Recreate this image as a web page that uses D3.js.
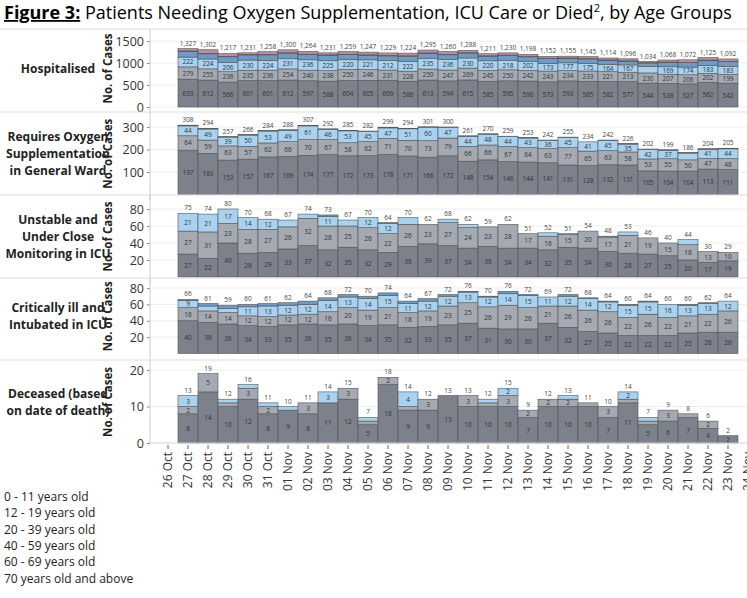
<!DOCTYPE html><html><head><meta charset="utf-8"><script src="https://cdn.jsdelivr.net/npm/d3@7"></script>
<style>body{margin:0;background:#fff}text{font-family:"Open Sans",Lato,sans-serif}</style></head><body><svg id="c" width="747" height="598"></svg>
<script>
const dates=["26 Oct","27 Oct","28 Oct","29 Oct","30 Oct","31 Oct","01 Nov","02 Nov","03 Nov","04 Nov","05 Nov","06 Nov","07 Nov","08 Nov","09 Nov","10 Nov","11 Nov","12 Nov","13 Nov","14 Nov","15 Nov","16 Nov","17 Nov","18 Nov","19 Nov","20 Nov","21 Nov","22 Nov","23 Nov","24 Nov"];
const barDates=dates.slice(1,29);
const ageGroups=["70 years old and above","60 - 69 years old","40 - 59 years old","20 - 39 years old","12 - 19 years old","0 - 11 years old"];
const legendLabels=["0 - 11 years old","12 - 19 years old","20 - 39 years old","40 - 59 years old","60 - 69 years old","70 years old and above"];
const colors=["#7c818b","#a4a9b2","#a9d2f0","#6e9bc4","#3a4668","#b88ea6"];
// Hospitalised
const hosp70=[633,612,566,601,601,612,597,588,604,605,609,586,613,594,615,585,595,590,573,593,585,582,577,544,538,527,562,542];
const hosp60=[279,255,236,235,236,254,240,238,250,246,231,228,250,247,269,245,250,242,243,234,233,221,213,230,207,206,202,199];
const hosp40=[222,224,206,230,224,231,236,225,220,221,212,222,235,236,230,220,218,202,173,177,175,164,167,148,169,174,183,183];
const hosp20=[133,117,133,117,124,128,119,126,117,106,110,120,124,110,112,106,108,107,112,102,100,96,85,78,100,101,112,106];
const hosp12=[8,8,8,8,8,8,8,8,8,8,8,8,8,8,8,8,8,8,8,8,8,8,8,6,8,8,8,8];
const hosp0=[52,86,68,40,65,67,64,46,60,61,59,60,65,65,54,47,51,49,43,41,44,43,46,28,46,56,58,54];
// Oxygen in general ward
const oxy70=[197,183,153,157,167,169,174,177,172,173,178,171,166,172,148,154,146,144,141,131,128,132,131,105,104,104,113,111];
const oxy60=[64,59,63,57,62,66,70,67,58,62,71,70,73,79,66,66,67,64,63,77,65,63,58,53,55,50,47,48];
const oxy40=[44,49,39,50,53,49,61,46,53,45,47,51,60,47,44,48,44,43,36,45,41,45,35,42,37,30,41,44];
const oxy20=[3,3,2,2,2,4,2,2,2,2,3,2,2,2,3,2,2,2,2,2,0,2,2,2,3,2,3,2];
// Unstable, close monitoring in ICU
const uns70=[27,22,40,28,29,33,37,32,35,32,29,36,39,37,34,36,34,34,32,35,34,30,28,27,25,20,17,19];
const uns60=[27,31,23,28,27,26,32,28,25,26,22,26,23,27,24,23,28,17,16,15,20,17,21,19,15,18,13,10];
const uns40=[21,21,17,14,12,8,5,11,7,12,12,8,0,4,4,0,0,0,4,1,0,1,4,0,0,6,0,0];
const uns20=[0,0,0,0,0,0,0,2,0,0,1,0,0,0,0,0,0,0,0,0,0,0,0,0,0,0,0,0];
// Critically ill, intubated in ICU
const crit70=[40,38,36,34,33,35,36,35,36,34,35,32,33,35,37,31,30,30,37,32,27,25,22,22,22,25,26,26];
const crit60=[16,14,14,12,12,12,12,16,20,19,21,18,19,23,25,26,29,26,21,26,26,26,22,26,22,21,22,26];
const crit40=[9,6,5,11,13,12,12,14,13,14,15,11,12,12,13,12,14,15,11,12,14,12,15,15,16,13,13,12];
const crit20=[1,3,4,3,3,3,4,3,3,3,3,3,3,2,1,1,3,1,0,2,1,1,1,1,0,1,1,0];
// Deceased
const dec70=[8,14,10,12,8,9,8,11,12,5,16,9,9,13,10,10,10,7,10,10,10,7,11,5,6,7,4,2];
const dec60=[2,5,1,3,2,0,3,0,3,1,2,1,3,0,3,1,3,2,2,2,1,3,1,1,3,1,2,0];
const dec40=[3,0,1,1,1,1,0,3,0,1,0,4,0,0,0,1,2,0,0,1,0,0,2,1,0,0,0,0];

const panels=[
 {name:["Hospitalised"],series:[hosp70,hosp60,hosp40,hosp20,hosp12,hosp0],max:1500,ticks:[0,500,1000,1500],top:30,bot:107,yTop:41,fmt:d3.format(",")},
 {name:["Requires Oxygen","Supplementation","in General Ward"],series:[oxy70,oxy60,oxy40,oxy20],max:300,ticks:[100,200,300],top:113,bot:194.5,yTop:127},
 {name:["Unstable and","Under Close","Monitoring in ICU"],series:[uns70,uns60,uns40,uns20],max:80,ticks:[20,40,60,80],top:196,bot:277,yTop:209},
 {name:["Critically ill and","Intubated in ICU"],series:[crit70,crit60,crit40,crit20],max:80,ticks:[20,40,60,80],top:279,bot:353.5,yTop:288},
 {name:["Deceased (based","on date of death)"],series:[dec70,dec60,dec40],max:20,ticks:[0,10,20],top:361,bot:443,yTop:370}
];
const svg=d3.select("#c");
const t=svg.append("text").attr("x",4).attr("y",19).attr("font-size",18).attr("font-family","Arial, Liberation Sans, sans-serif");
t.append("tspan").attr("font-weight","bold").attr("text-decoration","underline").text("Figure 3:");
t.append("tspan").text(" Patients Needing Oxygen Supplementation, ICU Care or Died");
t.append("tspan").attr("font-size",11).attr("dy",-7).text("2");
t.append("tspan").attr("dy",7).text(", by Age Groups");
const x=d3.scaleBand().domain(dates).range([158,758]).padding(0);
const L=150,R=747;
panels.forEach((p,pi)=>{
  const y=d3.scaleLinear().domain([0,p.max]).range([p.bot,p.yTop]);
  const g=svg.append("g");
  g.append("line").attr("x1",0).attr("x2",R).attr("y1",p.top-1).attr("y2",p.top-1).attr("stroke","#ddd");
  p.ticks.forEach(v=>g.append("line").attr("x1",L).attr("x2",R).attr("y1",y(v)).attr("y2",y(v)).attr("stroke","#eee"));
  const ax=g.append("g").attr("transform",`translate(${L},0)`).call(d3.axisLeft(y).tickValues(p.ticks).tickSize(3).tickFormat(d3.format("")));
  ax.select(".domain").remove();ax.selectAll("text").attr("font-size",12.5).attr("fill","#333").attr("font-family","Arial, Liberation Sans, sans-serif");
  ax.selectAll("line").attr("stroke","#888");
  g.append("text").attr("transform",`translate(112,${(p.top+p.bot)/2}) rotate(-90)`).attr("text-anchor","middle").attr("font-size",11.5).attr("font-weight","bold").attr("fill","#222").text("No. of Cases");
  const nt=g.append("text").attr("x",58).attr("text-anchor","middle").attr("font-size",12).attr("font-weight","bold").attr("fill","#222");
  p.name.forEach((s,i)=>nt.append("tspan").attr("x",58).attr("y",(p.top+p.bot)/2+4+(i-(p.name.length-1)/2)*17).text(s));
  barDates.forEach((d,i)=>{
    let acc=0;
    p.series.forEach((s,k)=>{
      const v=s[i];if(!v){return;}
      const y0=y(acc),y1=y(acc+v);acc+=v;
      g.append("rect").attr("x",x(d)).attr("width",x.bandwidth()).attr("y",y1).attr("height",y0-y1).attr("fill",colors[k]).attr("stroke","#555").attr("stroke-width",0.6);
      if(y0-y1>7) g.append("text").attr("x",x(d)+x.bandwidth()/2).attr("y",(y0+y1)/2+2.5).attr("text-anchor","middle").attr("font-size",6.5).attr("fill","#333").text(v);
    });
    g.append("text").attr("x",x(d)+x.bandwidth()/2).attr("y",y(acc)-3).attr("text-anchor","middle").attr("font-size",6.5).attr("fill","#444").text(p.fmt?p.fmt(acc):acc);
  });
  g.append("line").attr("x1",L).attr("x2",L).attr("y1",p.top-1).attr("y2",p.bot+(pi==4?0:6)).attr("stroke","#ccc");
});
const xa=svg.append("g").attr("transform","translate(0,445)").call(d3.axisBottom(x).tickSize(4));
xa.select(".domain").remove();
xa.selectAll("line").attr("stroke","#666");
xa.selectAll("text").attr("transform","rotate(-90)").attr("text-anchor","end").attr("x",-7).attr("y",0).attr("dy","0.35em").attr("font-size",12).attr("fill","#333").attr("font-family","DejaVu Sans, sans-serif");
svg.append("line").attr("x1",L).attr("x2",R).attr("y1",443).attr("y2",443).attr("stroke","#ddd");
legendLabels.forEach((s,i)=>svg.append("text").attr("x",4).attr("y",501+i*16.3).attr("font-size",12).attr("fill","#222").text(s));
</script></body></html>
